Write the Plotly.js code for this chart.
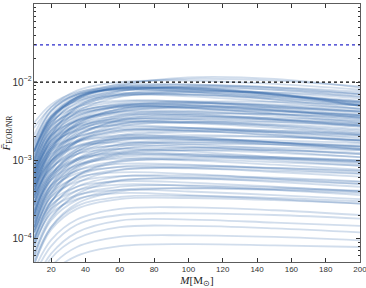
<!DOCTYPE html>
<html><head><meta charset="utf-8">
<script src="https://cdn.plot.ly/plotly-3.0.1.min.js"></script>
<style>html,body{margin:0;padding:0;background:#fff}#chart{width:366px;height:288px}</style>
</head><body><div id="chart"></div>
<script>
// Total mass grid (solar masses)
var masses = [10, 20, 35, 60, 100, 150, 200];
// Mismatch curves, one per configuration
var curves = [
 [2.6e-3,4.8e-3,7.8e-3,1.0e-2,1.05e-2,9.5e-3,8.0e-3],
 [1.6e-3,4.2e-3,6.9e-3,8.8e-3,9.0e-3,8.0e-3,6.5e-3],
 [1.3e-3,3.6e-3,6.4e-3,8.5e-3,8.6e-3,7.2e-3,5.2e-3],
 [1.3e-3,3.6e-3,6.4e-3,8.4e-3,8.5e-3,7.1e-3,5.1e-3],
 [1.0e-3,3.2e-3,6.4e-3,9.5e-3,1.1e-2,1.05e-2,8.8e-3],
 [7.8e-4,2.8e-3,6.0e-3,9.0e-3,1.15e-2,1.1e-2,8.5e-3],
 [3.0e-3,5.2e-3,7.4e-3,8.5e-3,8.0e-3,6.8e-3,5.5e-3],
 [1.4e-3,3.8e-3,6.6e-3,8.3e-3,8.2e-3,7.0e-3,5.8e-3],
 [1.2e-3,3.4e-3,6.0e-3,7.8e-3,8.0e-3,7.0e-3,5.5e-3],
 [6.5e-4,2.2e-3,4.6e-3,7.0e-3,7.8e-3,7.3e-3,6.2e-3],
 [1.8e-3,4.4e-3,6.9e-3,8.2e-3,7.5e-3,6.0e-3,4.6e-3],
 [9.1e-4,2.9e-3,5.5e-3,7.8e-3,8.5e-3,8.0e-3,7.0e-3],
 [5.2e-4,1.9e-3,4.2e-3,6.5e-3,7.5e-3,7.4e-3,6.6e-3],
 [1.3e-3,3.5e-3,5.9e-3,7.2e-3,7.0e-3,6.0e-3,5.0e-3],
 [1.0e-3,3.0e-3,5.3e-3,6.8e-3,6.9e-3,6.2e-3,5.3e-3],
 [7.2e-4,2.4e-3,4.8e-3,6.6e-3,7.0e-3,6.5e-3,5.6e-3],
 [1.7e-3,4.3e-3,7.2e-3,9.2e-3,9.4e-3,8.4e-3,7.0e-3],
 [1.1e-3,3.2e-3,6.1e-3,8.6e-3,9.3e-3,8.6e-3,7.2e-3],
 [2.1e-3,4.8e-3,7.0e-3,8.0e-3,7.6e-3,6.4e-3,5.0e-3],
 [5.9e-4,2.1e-3,4.8e-3,7.6e-3,8.8e-3,8.6e-3,7.6e-3],
 [1.5e-3,3.7e-3,5.7e-3,6.9e-3,6.6e-3,5.6e-3,4.5e-3],
 [8.5e-4,2.6e-3,5.0e-3,7.0e-3,7.4e-3,6.7e-3,5.7e-3],
 [1.3e-3,3.4e-3,6.3e-3,8.2e-3,8.2e-3,6.9e-3,5.0e-3],
 [1.2e-3,3.5e-3,6.3e-3,8.3e-3,8.4e-3,7.0e-3,5.0e-3],
 [7.8e-4,2.2e-3,4.0e-3,5.3e-3,5.5e-3,4.9e-3,4.0e-3],
 [5.9e-4,1.8e-3,3.5e-3,5.0e-3,5.4e-3,5.0e-3,4.3e-3],
 [3.9e-4,1.4e-3,2.9e-3,4.6e-3,5.3e-3,5.2e-3,4.6e-3],
 [9.8e-4,2.4e-3,3.9e-3,4.8e-3,4.7e-3,4.0e-3,3.3e-3],
 [4.6e-4,1.5e-3,3.0e-3,4.3e-3,4.6e-3,4.3e-3,3.7e-3],
 [6.5e-4,1.8e-3,3.2e-3,4.2e-3,4.2e-3,3.7e-3,3.0e-3],
 [3.3e-4,1.1e-3,2.5e-3,3.8e-3,4.3e-3,4.2e-3,3.8e-3],
 [8.5e-4,2.1e-3,3.2e-3,3.9e-3,3.8e-3,3.3e-3,2.7e-3],
 [5.2e-4,1.5e-3,2.8e-3,3.7e-3,3.8e-3,3.4e-3,2.9e-3],
 [2.6e-4,8.8e-4,2.0e-3,3.3e-3,3.9e-3,3.9e-3,3.6e-3],
 [7.2e-4,1.8e-3,2.8e-3,3.4e-3,3.3e-3,2.8e-3,2.3e-3],
 [4.2e-4,1.3e-3,2.4e-3,3.3e-3,3.4e-3,3.1e-3,2.7e-3],
 [2.3e-4,8.0e-4,1.8e-3,2.9e-3,3.4e-3,3.3e-3,3.0e-3],
 [5.9e-4,1.5e-3,2.5e-3,3.1e-3,3.0e-3,2.6e-3,2.1e-3],
 [3.6e-4,1.1e-3,2.1e-3,2.9e-3,3.0e-3,2.8e-3,2.4e-3],
 [1.0e-3,2.7e-3,4.4e-3,5.6e-3,5.7e-3,5.0e-3,4.2e-3],
 [1.3e-3,3.1e-3,4.8e-3,5.8e-3,5.6e-3,4.7e-3,3.8e-3],
 [4.9e-4,1.6e-3,3.3e-3,4.9e-3,5.6e-3,5.6e-3,5.0e-3],
 [6.5e-4,2.0e-3,3.7e-3,5.0e-3,5.1e-3,4.5e-3,3.6e-3],
 [2.9e-4,1.0e-3,2.3e-3,3.6e-3,4.1e-3,3.9e-3,3.4e-3],
 [9.1e-4,2.4e-3,4.1e-3,5.2e-3,5.1e-3,4.4e-3,3.5e-3],
 [5.5e-4,1.7e-3,3.2e-3,4.5e-3,4.8e-3,4.4e-3,3.8e-3],
 [3.6e-4,1.3e-3,2.8e-3,4.2e-3,4.8e-3,4.7e-3,4.2e-3],
 [7.8e-4,2.0e-3,3.3e-3,4.1e-3,4.0e-3,3.4e-3,2.8e-3],
 [4.6e-4,1.4e-3,2.6e-3,3.5e-3,3.6e-3,3.3e-3,2.8e-3],
 [2.7e-4,9.6e-4,2.1e-3,3.2e-3,3.6e-3,3.5e-3,3.2e-3],
 [6.5e-4,1.7e-3,2.7e-3,3.2e-3,3.1e-3,2.7e-3,2.2e-3],
 [3.9e-4,1.2e-3,2.2e-3,3.0e-3,3.1e-3,2.9e-3,2.5e-3],
 [2.0e-4,7.2e-4,1.7e-3,2.7e-3,3.1e-3,3.1e-3,2.8e-3],
 [1.1e-3,2.8e-3,4.2e-3,5.0e-3,4.7e-3,3.9e-3,3.1e-3],
 [7.2e-4,2.1e-3,3.7e-3,4.8e-3,4.9e-3,4.3e-3,3.5e-3],
 [4.2e-4,1.4e-3,3.0e-3,4.5e-3,5.0e-3,4.8e-3,4.2e-3],
 [4.6e-4,1.1e-3,1.8e-3,2.4e-3,2.4e-3,2.1e-3,1.8e-3],
 [2.9e-4,8.8e-4,1.7e-3,2.3e-3,2.5e-3,2.3e-3,2.0e-3],
 [2.0e-4,6.4e-4,1.4e-3,2.1e-3,2.4e-3,2.4e-3,2.2e-3],
 [5.2e-4,1.2e-3,1.75e-3,2.1e-3,2.0e-3,1.7e-3,1.4e-3],
 [3.3e-4,8.8e-4,1.5e-3,1.9e-3,1.9e-3,1.7e-3,1.5e-3],
 [1.6e-4,5.6e-4,1.2e-3,1.8e-3,2.0e-3,2.0e-3,1.8e-3],
 [3.9e-4,9.6e-4,1.5e-3,1.7e-3,1.6e-3,1.4e-3,1.2e-3],
 [2.3e-4,6.8e-4,1.2e-3,1.6e-3,1.7e-3,1.6e-3,1.4e-3],
 [1.3e-4,4.4e-4,9.2e-4,1.4e-3,1.6e-3,1.6e-3,1.5e-3],
 [3.6e-4,8.0e-4,1.2e-3,1.4e-3,1.3e-3,1.1e-3,9.5e-4],
 [2.0e-4,5.6e-4,1.0e-3,1.3e-3,1.35e-3,1.25e-3,1.1e-3],
 [1.2e-4,3.6e-4,7.8e-4,1.2e-3,1.35e-3,1.35e-3,1.25e-3],
 [2.6e-4,6.4e-4,1.0e-3,1.2e-3,1.15e-3,1.0e-3,8.5e-4],
 [1.6e-4,4.4e-4,8.3e-4,1.1e-3,1.15e-3,1.05e-3,9.5e-4],
 [9.8e-5,3.0e-4,6.4e-4,1.0e-3,1.1e-3,1.1e-3,1.0e-3],
 [5.9e-4,1.4e-3,2.0e-3,2.5e-3,2.4e-3,2.1e-3,1.7e-3],
 [7.2e-4,1.6e-3,2.4e-3,2.8e-3,2.6e-3,2.2e-3,1.8e-3],
 [2.1e-4,6.4e-4,1.3e-3,1.9e-3,2.1e-3,2.0e-3,1.8e-3],
 [4.2e-4,1.0e-3,1.7e-3,2.0e-3,1.95e-3,1.7e-3,1.4e-3],
 [1.4e-4,4.8e-4,1.0e-3,1.5e-3,1.7e-3,1.7e-3,1.55e-3],
 [5.2e-4,1.3e-3,2.0e-3,2.6e-3,2.6e-3,2.3e-3,1.9e-3],
 [3.3e-4,9.6e-4,1.75e-3,2.4e-3,2.6e-3,2.4e-3,2.1e-3],
 [1.8e-4,6.0e-4,1.3e-3,2.0e-3,2.3e-3,2.3e-3,2.1e-3],
 [4.6e-4,1.0e-3,1.55e-3,1.9e-3,1.85e-3,1.6e-3,1.35e-3],
 [2.7e-4,7.6e-4,1.4e-3,1.8e-3,1.85e-3,1.7e-3,1.5e-3],
 [1.4e-4,5.0e-4,1.05e-3,1.6e-3,1.8e-3,1.8e-3,1.65e-3],
 [3.3e-4,8.0e-4,1.3e-3,1.55e-3,1.5e-3,1.3e-3,1.1e-3],
 [2.1e-4,6.0e-4,1.05e-3,1.4e-3,1.45e-3,1.35e-3,1.2e-3],
 [1.1e-4,3.8e-4,8.3e-4,1.25e-3,1.45e-3,1.45e-3,1.35e-3],
 [2.9e-4,6.8e-4,1.05e-3,1.25e-3,1.2e-3,1.05e-3,9.0e-4],
 [1.8e-4,4.8e-4,8.7e-4,1.15e-3,1.2e-3,1.1e-3,1.0e-3],
 [9.1e-5,2.9e-4,6.3e-4,9.5e-4,1.05e-3,1.05e-3,9.8e-4],
 [2.3e-4,5.6e-4,8.7e-4,1.05e-3,1.0e-3,8.8e-4,7.6e-4],
 [1.4e-4,4.0e-4,7.4e-4,9.8e-4,1.02e-3,9.5e-4,8.6e-4],
 [2.0e-4,4.8e-4,7.4e-4,9.0e-4,8.8e-4,7.8e-4,6.8e-4],
 [1.2e-4,3.4e-4,6.3e-4,8.3e-4,8.6e-4,8.0e-4,7.2e-4],
 [7.8e-5,2.4e-4,5.1e-4,7.5e-4,8.2e-4,8.0e-4,7.4e-4],
 [1.6e-4,3.8e-4,6.0e-4,7.0e-4,6.7e-4,5.8e-4,5.0e-4],
 [9.1e-5,2.6e-4,4.6e-4,6.2e-4,6.4e-4,6.0e-4,5.4e-4],
 [5.9e-5,1.8e-4,3.7e-4,5.5e-4,6.0e-4,5.8e-4,5.3e-4],
 [1.3e-4,3.0e-4,4.6e-4,5.4e-4,5.2e-4,4.6e-4,4.0e-4],
 [6.5e-5,1.9e-4,3.5e-4,4.6e-4,4.8e-4,4.5e-4,4.1e-4],
 [4.6e-5,1.4e-4,2.8e-4,4.0e-4,4.4e-4,4.3e-4,4.0e-4],
 [9.8e-5,2.4e-4,3.6e-4,4.2e-4,4.0e-4,3.6e-4,3.2e-4],
 [5.2e-5,1.4e-4,2.6e-4,3.4e-4,3.5e-4,3.3e-4,3.0e-4],
 [1.8e-4,4.3e-4,6.8e-4,8.2e-4,8.0e-4,7.1e-4,6.2e-4],
 [1.0e-4,3.0e-4,5.7e-4,7.6e-4,7.9e-4,7.4e-4,6.7e-4],
 [1.4e-4,3.4e-4,5.3e-4,6.3e-4,6.0e-4,5.3e-4,4.6e-4],
 [7.8e-5,2.2e-4,4.1e-4,5.6e-4,5.8e-4,5.5e-4,5.0e-4],
 [1.2e-4,2.7e-4,4.1e-4,4.9e-4,4.7e-4,4.2e-4,3.6e-4],
 [5.9e-5,1.7e-4,3.1e-4,4.2e-4,4.4e-4,4.2e-4,3.8e-4],
 [8.5e-5,2.1e-4,3.2e-4,3.8e-4,3.6e-4,3.2e-4,2.8e-4],
 [4.6e-5,1.3e-4,2.4e-4,3.2e-4,3.3e-4,3.1e-4,2.8e-4],
 [3.9e-5,9.6e-5,1.75e-4,2.4e-4,2.5e-4,2.3e-4,2.0e-4],
 [3.3e-5,8.0e-5,1.5e-4,2.0e-4,2.1e-4,2.0e-4,1.8e-4],
 [2.6e-5,6.4e-5,1.2e-4,1.7e-4,1.75e-4,1.6e-4,1.45e-4],
 [2.3e-5,5.6e-5,1.0e-4,1.4e-4,1.45e-4,1.35e-4,1.2e-4],
 [2.0e-5,4.4e-5,7.8e-5,1.05e-4,1.1e-4,1.05e-4,9.5e-5],
 [1.6e-5,3.6e-5,6.0e-5,8.0e-5,8.5e-5,8.2e-5,7.8e-5]
];
// Reference mismatch thresholds
var thresholdValues = [0.03, 0.01];
var thresholdColors = ['#2a2acc', '#000000'];
var massRange = [10, 200];
var xTicks = [20, 40, 60, 80, 100, 120, 140, 160, 180, 200];

var traces = curves.map(function (c) {
  return {x: masses, y: c, type: 'scatter', mode: 'lines',
    line: {color: 'rgba(45,100,170,0.22)', width: 1.8, shape: 'spline', smoothing: 1},
    hoverinfo: 'skip', showlegend: false};
});
thresholdValues.forEach(function (v, i) {
  traces.push({x: massRange, y: [v, v], type: 'scatter', mode: 'lines',
    line: {color: thresholdColors[i], width: 1.3, dash: 'dot'}, showlegend: false});
});

var layout = {
  width: 366, height: 288,
  margin: {l: 34, r: 6, t: 4, b: 26},
  paper_bgcolor: '#fff', plot_bgcolor: '#fff',
  font: {family: 'Liberation Sans, Arial, sans-serif', size: 8, color: '#333'},
  xaxis: {range: massRange, tickvals: xTicks, ticks: 'inside', ticklen: 4,
    ticklabeloverflow: 'allow',
    showline: true, mirror: 'ticks', linecolor: '#333', linewidth: 0.8,
    tickcolor: '#333', showgrid: false, zeroline: false,
    title: {text: '<i>M</i>[M<sub>⊙</sub>]', standoff: 2,
      font: {family: 'Liberation Serif, serif', size: 11, color: '#222'}}},
  yaxis: {type: 'log', range: [-4.3, -1], dtick: 1, exponentformat: 'power',
    ticks: 'inside', ticklen: 4, showline: true, mirror: 'ticks', linecolor: '#333',
    linewidth: 0.8, tickcolor: '#333', showgrid: false, zeroline: false,
    minor: {ticks: 'inside', ticklen: 2, tickcolor: '#333', showgrid: false},
    title: {text: '<i>F̄</i><sub>EOB/NR</sub>', standoff: 2,
      font: {family: 'Liberation Serif, serif', size: 11, color: '#222'}}}
};
Plotly.newPlot('chart', traces, layout, {staticPlot: true, displayModeBar: false});
</script></body></html>
